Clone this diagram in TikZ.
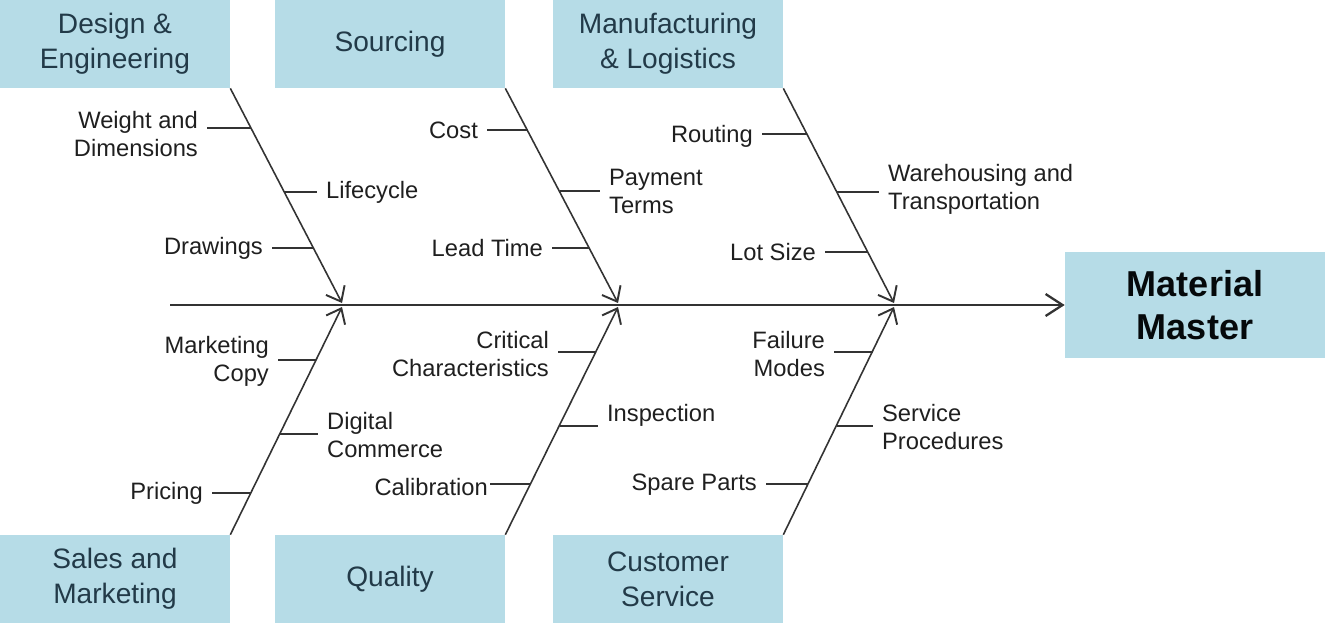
\documentclass[tikz,border=0pt]{standalone}
\usepackage{fontspec}
\setmainfont{Liberation Sans}
\usepackage{xcolor}
\usepackage{tikz}
\usetikzlibrary{arrows.meta}

\definecolor{boxblue}{RGB}{182,220,231}
\definecolor{boxtext}{RGB}{34,58,72}
\definecolor{bonegray}{RGB}{51,51,51}

\tikzset{
    cat/.style={fill=boxblue, text=boxtext, minimum width=4.6cm, minimum height=1.76cm,
        inner sep=0pt, align=center, font=\fontsize{16}{20}\selectfont},
    lblL/.style={anchor=east, align=right, inner sep=5pt, text=black!88,
        font=\fontsize{13.5}{16}\selectfont},
    lblR/.style={lblL, anchor=west, align=left},
    bone/.style={draw=bonegray, line width=0.9pt,
        -{Straight Barb[length=0.26cm,width=0.42cm,line width=1.1pt]}},
    spine/.style={draw=bonegray, line width=1.2pt,
        -{Straight Barb[length=0.34cm,width=0.44cm,line width=1.3pt]}},
    rib/.style={draw=bonegray, line width=0.8pt},
}

\begin{document}
\begin{tikzpicture}[x=0.02cm, y=-0.02cm]
        \useasboundingbox (0,0) rectangle (1325,627);

        % category boxes
        \node[cat] (design)   at (115,44)  {Design \&\\Engineering};
        \node[cat] (sourcing) at (390,44)  {Sourcing};
        \node[cat] (manuf)    at (668,44)  {Manufacturing\\\& Logistics};
        \node[cat] (sales)    at (115,579) {Sales and\\Marketing};
        \node[cat] (quality)  at (390,579) {Quality};
        \node[cat] (custserv) at (668,579) {Customer\\Service};

        \node[fill=boxblue, text=black!85!boxtext, minimum width=5.2cm, minimum height=2.12cm,
            inner sep=0pt, align=center, font=\bfseries\fontsize{20.5}{24.5}\selectfont]
            (master) at (1195,305) {Material\\Master};

        % spine and bones
        \coordinate (tail) at (170,305);
        \coordinate (designtip) at (342,303);
        \coordinate (sourcingtip) at (618,303);
        \coordinate (maniftip) at (894,303);
        \coordinate (salestip) at (342,307);
        \coordinate (qualitytip) at (618,307);
        \coordinate (custtip) at (894,307);

        \draw[spine] (tail) -- (master);
        \draw[bone] (design.south east) -- (designtip);
        \draw[bone] (sourcing.south east) -- (sourcingtip);
        \draw[bone] (manuf.south east) -- (maniftip);
        \draw[bone] (sales.north east) -- (salestip);
        \draw[bone] (quality.north east) -- (qualitytip);
        \draw[bone] (custserv.north east) -- (custtip);

        % points on the bones
        \coordinate (weightc)  at (250.8,128);
        \coordinate (lifec)    at (284.2,192);
        \coordinate (drawc)    at (313.4,248);
        \coordinate (costc)    at (527.9,130);
        \coordinate (payc)     at (559.7,191);
        \coordinate (leadc)    at (589.4,248);
        \coordinate (routc)    at (807.0,134);
        \coordinate (warec)    at (837.2,192);
        \coordinate (lotc)     at (868.4,252);
        \coordinate (markc)    at (316.0,360);
        \coordinate (digic)    at (279.6,434);
        \coordinate (pricc)    at (250.6,493);
        \coordinate (critc)    at (595.9,352);
        \coordinate (inspc)    at (559.5,426);
        \coordinate (calic)    at (531.0,484);
        \coordinate (failc)    at (872.9,352);
        \coordinate (servc)    at (836.5,426);
        \coordinate (sparc)    at (808.0,484);

        % labels
        \node[lblL] (weight) at (207,134) {Weight and\\Dimensions};
        \node[lblR] (life)   at (317,192) {Lifecycle};
        \node[lblL] (draws)  at (272,248) {Drawings};
        \node[lblL] (cost)   at (487,130) {Cost};
        \node[lblR] (pay)    at (600,191) {Payment\\Terms};
        \node[lblL] (lead)   at (552,248) {Lead Time};
        \node[lblL] (rout)   at (762,136) {Routing};
        \node[lblR] (ware)   at (879,189) {Warehousing and\\Transportation};
        \node[lblL] (lot)    at (825,252) {Lot Size};
        \node[lblL] (mark)   at (278,361) {Marketing\\Copy};
        \node[lblR] (digi)   at (318,435) {Digital\\Commerce};
        \node[lblL] (pric)   at (212,493) {Pricing};
        \node[lblL] (crit)   at (558,354) {Critical\\Characteristics};
        \node[lblR] (insp)   at (598,415) {Inspection};
        \node[lblL, inner sep=1pt] (cali) at (490,487) {Calibration};
        \node[lblL] (fail)   at (834,354) {Failure\\Modes};
        \node[lblR] (serv)   at (873,427) {Service\\Procedures};
        \node[lblL] (spar)   at (766,485) {Spare Parts};

        % ribs
        \draw[rib] (weightc) -- (weightc -| weight.east);
        \draw[rib] (lifec) -- (lifec -| life.west);
        \draw[rib] (drawc) -- (drawc -| draws.east);
        \draw[rib] (costc) -- (costc -| cost.east);
        \draw[rib] (payc) -- (payc -| pay.west);
        \draw[rib] (leadc) -- (leadc -| lead.east);
        \draw[rib] (routc) -- (routc -| rout.east);
        \draw[rib] (warec) -- (warec -| ware.west);
        \draw[rib] (lotc) -- (lotc -| lot.east);
        \draw[rib] (markc) -- (markc -| mark.east);
        \draw[rib] (digic) -- (digic -| digi.west);
        \draw[rib] (pricc) -- (pricc -| pric.east);
        \draw[rib] (critc) -- (critc -| crit.east);
        \draw[rib] (inspc) -- (inspc -| insp.west);
        \draw[rib] (calic) -- (calic -| cali.east);
        \draw[rib] (failc) -- (failc -| fail.east);
        \draw[rib] (servc) -- (servc -| serv.west);
        \draw[rib] (sparc) -- (sparc -| spar.east);
    \end{tikzpicture}
\end{document}
